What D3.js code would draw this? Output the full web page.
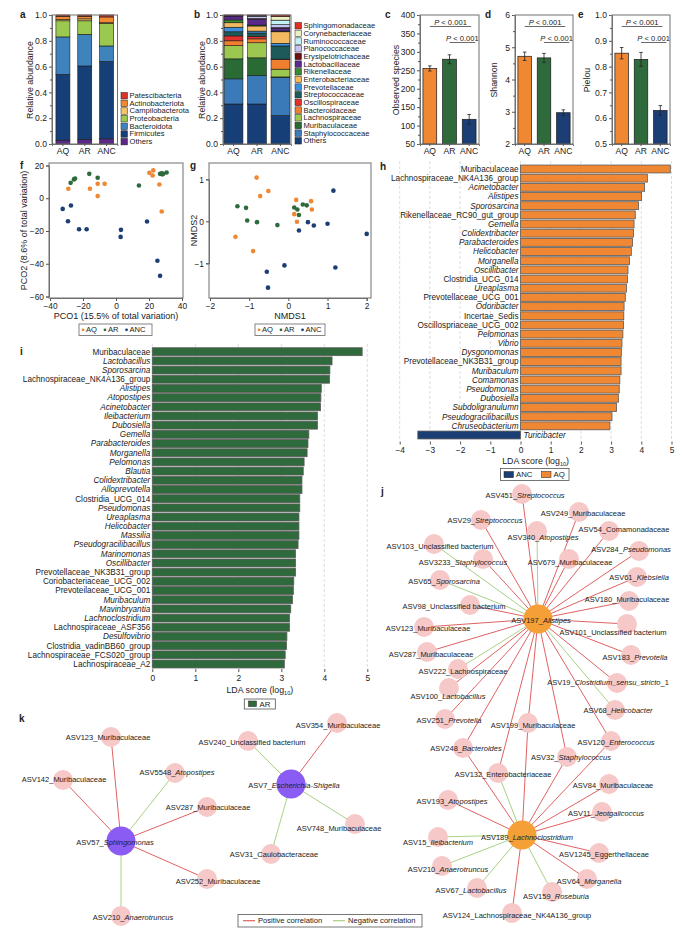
<!DOCTYPE html>
<html><head><meta charset="utf-8">
<script src="https://cdn.jsdelivr.net/npm/d3@7/dist/d3.min.js"></script>
<style>
html,body{margin:0;padding:0;background:#fff;}
svg text{font-family:"Liberation Sans",Arial,Helvetica,sans-serif;fill:#222;}
</style></head>
<body><svg id="fig" width="700" height="934" viewBox="0 0 700 934"></svg>
<script>
// ================= DATA =================
const groups = ["AQ", "AR", "ANC"];
const groupColors = ["#ef8733", "#2e6a3b", "#1b3e75"];

// (a) phylum relative abundance, stacked bottom -> top
const phyla = ["Others", "Firmicutes", "Bacteroidota", "Proteobacteria", "Campilobacterota", "Actinobacteriota", "Patescibacteria"];
const phylaColors = ["#5b2a86", "#173f77", "#3f83bd", "#9bc950", "#f4c46a", "#f08a33", "#d7342a"];
const phylaAQ  = [0.030, 0.510, 0.290, 0.125, 0.010, 0.025, 0.010];
const phylaAR  = [0.035, 0.570, 0.245, 0.105, 0.015, 0.020, 0.010];
const phylaANC = [0.040, 0.600, 0.120, 0.175, 0.005, 0.045, 0.015];

// (b) family relative abundance, stacked bottom -> top
const families = ["Others", "Staphylococcaceae", "Muribaculaceae", "Lachnospiraceae", "Bacteroidaceae", "Oscillospiraceae",
  "Streptococcaceae", "Prevotellaceae", "Enterobacteriaceae", "Rikenellaceae", "Lactobacillaceae", "Erysipelotrichaceae",
  "Planococcaceae", "Ruminococcaceae", "Corynebacteriaceae", "Sphingomonadaceae"];
const familyColors = ["#173f77", "#3a7ab8", "#2a6a35", "#9cc850", "#f08030", "#e2302a", "#1f5a5a", "#3a90e0",
  "#f2b960", "#3a8a30", "#5a2a8a", "#6e1010", "#c4c4f2", "#c4f2f2", "#eaf2c4", "#e03020"];
const famAQ  = [0.310, 0.195, 0.155, 0.102, 0.038, 0.038, 0.032, 0.035, 0.035, 0.022, 0.030, 0.002, 0.002, 0.001, 0.001, 0.002];
const famAR  = [0.310, 0.220, 0.138, 0.117, 0.030, 0.020, 0.025, 0.015, 0.040, 0.007, 0.046, 0.004, 0.018, 0.004, 0.003, 0.003];
const famANC = [0.220, 0.295, 0.005, 0.060, 0.075, 0.003, 0.102, 0.020, 0.090, 0.006, 0.022, 0.004, 0.023, 0.035, 0.028, 0.012];

// (c-e) alpha diversity, mean and error
const observed = [255, 280, 117], observedErr = [7, 12, 13];
const shannon = [4.72, 4.67, 2.97], shannonErr = [0.13, 0.14, 0.09];
const pielou = [0.852, 0.828, 0.630], pielouErr = [0.022, 0.027, 0.019];
const pText = "P < 0.001";

// (f) PCoA
const pcoAQ  = [[-28.9, 5.8], [-15.8, 5.8], [-11.1, 8.8], [-6.9, 8.8], [-11.1, 1.3], [20.2, 15.5], [22.6, 17.0], [22.2, 13.9], [26.3, 8.4], [27.7, -8.1]];
const pcoAR  = [[-27.5, 9.4], [-25.5, 11.5], [-24.8, 12.1], [-16.2, 14.9], [-11.1, 12.5], [13.9, 7.8], [26.7, 14.9], [27.7, 15.2], [28.1, 14.6], [28.7, 15.0], [30.7, 15.7]];
const pcoANC = [[-32.3, -6.5], [-27.3, -4.4], [-29.1, -14.0], [-22.4, -18.9], [-17.8, -18.9], [2.8, -23.6], [3.0, -19.3], [18.8, -14.2], [25.1, -38.2], [26.7, -47.4]];

// (g) NMDS
const nmdsAQ  = [[-0.81, 1.04], [-0.51, 0.72], [-0.72, 0.60], [0.20, 0.51], [0.58, 0.48], [0.15, 0.17], [0.60, 0.28], [0.22, -0.01], [-0.90, -0.71], [-1.35, -0.37]];
const nmdsAR  = [[-1.30, 0.36], [-1.08, 0.32], [-1.05, 0.02], [-0.80, -0.02], [-0.28, -0.09], [0.15, 0.33], [0.23, 0.28], [0.27, 0.15], [0.37, 0.40], [0.47, 0.38]];
const nmdsANC = [[1.15, 0.73], [1.20, -1.10], [-0.10, -1.05], [-0.55, -1.20], [-0.52, -1.58], [0.27, -0.22], [0.50, -0.02], [0.65, -0.10], [1.00, -0.06], [2.00, -0.30]];

// (h) LEfSe AQ vs ANC
const ldaAQNames = ["Muribaculaceae", "Lachnospiraceae_NK4A136_group", "Acinetobacter", "Alistipes", "Sporosarcina",
  "Rikenellaceae_RC90_gut_group", "Gemella", "Colidextribacter", "Parabacteroides", "Helicobacter", "Morganella",
  "Oscillibacter", "Clostridia_UCG_014", "Ureaplasma", "Prevotellaceae_UCG_001", "Odoribacter", "Incertae_Sedis",
  "Oscillospriaceae_UCG_002", "Pelomonas", "Vibrio", "Dysgonomonas", "Prevotellaceae_NK3B31_group", "Muribaculum",
  "Comamonas", "Pseudomonas", "Dubosiella", "Subdoligranulumn", "Pseudogracilibacillus", "Chruseobacterium"];
const ldaAQValues = [4.96, 4.20, 4.11, 4.01, 3.91, 3.80, 3.76, 3.74, 3.71, 3.67, 3.61, 3.56, 3.54, 3.51, 3.47, 3.43,
  3.42, 3.41, 3.39, 3.36, 3.34, 3.33, 3.33, 3.29, 3.27, 3.24, 3.18, 3.03, 2.96];
const ldaANCNames = ["Turicibacter"];
const ldaANCValues = [-3.40];
const ldaHTicks = [-4, -3, -2, -1, 0, 1, 2, 3, 4, 5];

// (i) LEfSe AR
const ldaARNames = ["Muribaculaceae", "Lactobacillus", "Sporosarcina", "Lachnospiraceae_NK4A136_group", "Alistipes",
  "Atopostipes", "Acinetobacter", "Ileibacterium", "Dubosiella", "Gemella", "Parabacteroides", "Morganella", "Pelomonas",
  "Blautia", "Colidextribacter", "Alloprevotella", "Clostridia_UCG_014", "Pseudomonas", "Ureaplasma", "Helicobacter",
  "Massilia", "Pseudogracilibacillus", "Marinomonas", "Oscillibacter", "Prevotellaceae_NK3B31_group",
  "Coriobacteriaceae_UCG_002", "Prevoteilaceae_UCG_001", "Muribaculum", "Mavinbryantia", "Lachnoclostridium",
  "Lachnospiraceae_ASF356", "Desulfovibrio", "Clostridia_vadinBB60_group", "Lachnospiraceae_FCS020_group", "Lachnospiraceae_A2"];
const ldaARValues = [4.88, 4.18, 4.13, 4.12, 3.93, 3.92, 3.91, 3.84, 3.84, 3.64, 3.62, 3.60, 3.53, 3.51, 3.48, 3.48,
  3.43, 3.43, 3.41, 3.41, 3.41, 3.39, 3.33, 3.33, 3.33, 3.29, 3.28, 3.26, 3.22, 3.19, 3.19, 3.13, 3.12, 3.09, 3.07];
const ldaITicks = [0, 1, 2, 3, 4, 5];

// (j) co-occurrence network: [name, layoutX, layoutY, labelX, labelY, role]
const jNodes = [
  ["ASV197_Alistipes", 158, 139, 161, 140, "hub"],
  ["ASV189_Lachnoclostridium", 142, 355, 147, 357, "hub"],
  ["ASV451_Streptococcus", 142, 14, 145, 15],
  ["ASV249_Muribaculaceae", 199, 32, 203, 33],
  ["ASV29_Streptococcus", 101, 40, 105, 40],
  ["ASV340_Atopostipes", 157, 51, 163, 57],
  ["ASV54_Comamonadaceae", 229, 51, 244, 49],
  ["ASV103_Unclassified bacterium", 54, 64, 60, 66],
  ["ASV284_Pseudomonas", 259, 71, 251, 69],
  ["ASV3233_Staphylococcus", 103, 79, 83, 82],
  ["ASV679_Muribaculaceae", 189, 79, 190, 82],
  ["ASV61_Klebsiella", 257, 97, 259, 97],
  ["ASV65_Sporosarcina", 60, 100, 64, 101],
  ["ASV180_Muribaculaceae", 249, 121, 247, 119],
  ["ASV98_Unclassified bacterium", 90, 125, 74, 126],
  ["ASV123_Muribaculaceae", 44, 147, 48, 148],
  ["ASV101_Unclassified bacterium", 247, 144, 233, 152],
  ["ASV287_Muribaculaceae", 47, 172, 51, 174],
  ["ASV183_Prevotella", 251, 175, 255, 177],
  ["ASV222_Lachnospiraceae", 78, 189, 83, 191],
  ["ASV19_Clostridium_sensu_stricto_1", 237, 203, 228, 202],
  ["ASV100_Lactobacillus", 69, 208, 68, 216],
  ["ASV251_Prevotella", 65, 239, 69, 240],
  ["ASV68_Helicobacter", 235, 230, 238, 230],
  ["ASV199_Muribaculaceae", 148, 243, 153, 245],
  ["ASV248_Bacteroides", 83, 268, 86, 268],
  ["ASV120_Enterococcus", 231, 261, 236, 262],
  ["ASV32_Staphylococcus", 187, 277, 191, 277],
  ["ASV132_Enterobacteriaceae", 118, 293, 123, 294],
  ["ASV84_Muribaculaceae", 229, 304, 233, 305],
  ["ASV193_Atopostipes", 68, 320, 72, 321],
  ["ASV11_Jeotgalicoccus", 222, 332, 226, 333],
  ["ASV15_Ileibacterium", 58, 357, 58, 362],
  ["ASV1245_Eggerthellaceae", 219, 373, 224, 374],
  ["ASV210_Anaerotruncus", 62, 386, 68, 389],
  ["ASV64_Morganella", 207, 399, 209, 401],
  ["ASV67_Lactobacillus", 97, 408, 91, 410],
  ["ASV159_Roseburia", 172, 412, 176, 416],
  ["ASV124_Lachnospiraceae_NK4A136_group", 132, 433, 137, 435]
];
// [source, target, sign]
const jEdges = [
  ["ASV197_Alistipes", "ASV451_Streptococcus", 1], ["ASV197_Alistipes", "ASV249_Muribaculaceae", 1],
  ["ASV197_Alistipes", "ASV29_Streptococcus", 1], ["ASV197_Alistipes", "ASV340_Atopostipes", -1],
  ["ASV197_Alistipes", "ASV54_Comamonadaceae", 1], ["ASV197_Alistipes", "ASV103_Unclassified bacterium", -1],
  ["ASV197_Alistipes", "ASV284_Pseudomonas", 1], ["ASV197_Alistipes", "ASV3233_Staphylococcus", 1],
  ["ASV197_Alistipes", "ASV679_Muribaculaceae", 1], ["ASV197_Alistipes", "ASV61_Klebsiella", 1],
  ["ASV197_Alistipes", "ASV65_Sporosarcina", -1], ["ASV197_Alistipes", "ASV180_Muribaculaceae", 1],
  ["ASV197_Alistipes", "ASV98_Unclassified bacterium", 1], ["ASV197_Alistipes", "ASV123_Muribaculaceae", 1],
  ["ASV197_Alistipes", "ASV101_Unclassified bacterium", 1], ["ASV197_Alistipes", "ASV287_Muribaculaceae", 1],
  ["ASV197_Alistipes", "ASV183_Prevotella", 1], ["ASV197_Alistipes", "ASV222_Lachnospiraceae", -1],
  ["ASV197_Alistipes", "ASV19_Clostridium_sensu_stricto_1", 1], ["ASV197_Alistipes", "ASV100_Lactobacillus", 1],
  ["ASV197_Alistipes", "ASV251_Prevotella", 1], ["ASV197_Alistipes", "ASV68_Helicobacter", -1],
  ["ASV197_Alistipes", "ASV199_Muribaculaceae", 1], ["ASV197_Alistipes", "ASV248_Bacteroides", 1],
  ["ASV197_Alistipes", "ASV120_Enterococcus", 1], ["ASV197_Alistipes", "ASV32_Staphylococcus", 1],
  ["ASV197_Alistipes", "ASV132_Enterobacteriaceae", 1],
  ["ASV189_Lachnoclostridium", "ASV248_Bacteroides", 1], ["ASV189_Lachnoclostridium", "ASV132_Enterobacteriaceae", -1],
  ["ASV189_Lachnoclostridium", "ASV199_Muribaculaceae", 1], ["ASV189_Lachnoclostridium", "ASV32_Staphylococcus", 1],
  ["ASV189_Lachnoclostridium", "ASV120_Enterococcus", 1], ["ASV189_Lachnoclostridium", "ASV84_Muribaculaceae", 1],
  ["ASV189_Lachnoclostridium", "ASV193_Atopostipes", 1], ["ASV189_Lachnoclostridium", "ASV11_Jeotgalicoccus", 1],
  ["ASV189_Lachnoclostridium", "ASV15_Ileibacterium", -1], ["ASV189_Lachnoclostridium", "ASV1245_Eggerthellaceae", 1],
  ["ASV189_Lachnoclostridium", "ASV210_Anaerotruncus", -1], ["ASV189_Lachnoclostridium", "ASV64_Morganella", 1],
  ["ASV189_Lachnoclostridium", "ASV67_Lactobacillus", -1], ["ASV189_Lachnoclostridium", "ASV159_Roseburia", -1],
  ["ASV189_Lachnoclostridium", "ASV124_Lachnospiraceae_NK4A136_group", 1]
];

// (k) network
const kNodes = [
  ["ASV57_Sphingomonas", 121, 201, 115, 202, "hub"],
  ["ASV7_Escherichia-Shigella", 291, 144, 294, 145, "hub"],
  ["ASV123_Muribaculaceae", 111, 97, 108, 97],
  ["ASV142_Muribaculaceae", 63, 140, 64, 139],
  ["ASV5548_Atopostipes", 175, 133, 177, 132],
  ["ASV287_Muribaculaceae", 207, 167, 208, 167],
  ["ASV252_Muribaculaceae", 207, 239, 218, 241],
  ["ASV210_Anaerotruncus", 121, 276, 133, 277],
  ["ASV240_Unclassified bacterium", 248, 101, 252, 102],
  ["ASV354_Muribaculaceae", 337, 83, 338, 85],
  ["ASV748_Muribaculaceae", 355, 184, 339, 188],
  ["ASV31_Caulobacteraceae", 271, 214, 274, 214]
];
const kEdges = [
  ["ASV57_Sphingomonas", "ASV123_Muribaculaceae", 1], ["ASV57_Sphingomonas", "ASV142_Muribaculaceae", 1],
  ["ASV57_Sphingomonas", "ASV5548_Atopostipes", -1], ["ASV57_Sphingomonas", "ASV287_Muribaculaceae", 1],
  ["ASV57_Sphingomonas", "ASV252_Muribaculaceae", 1], ["ASV57_Sphingomonas", "ASV210_Anaerotruncus", -1],
  ["ASV7_Escherichia-Shigella", "ASV240_Unclassified bacterium", -1], ["ASV7_Escherichia-Shigella", "ASV354_Muribaculaceae", 1],
  ["ASV7_Escherichia-Shigella", "ASV748_Muribaculaceae", -1], ["ASV7_Escherichia-Shigella", "ASV31_Caulobacteraceae", -1]
];
const corrLegend = ["Positive correlation", "Negative correlation"];

// ================= DRAWING =================
const svg = d3.select("#fig");
const FRAME = "#707070", TICKC = "#555", POS = "#e06262", NEG = "#a9d184";

function styleAxis(g, fs) {
  g.attr("font-size", fs).attr("font-family", null);
  g.select(".domain").attr("stroke", FRAME);
  g.selectAll(".tick line").attr("stroke", TICKC);
  g.selectAll(".tick text").attr("fill", "#222");
  return g;
}
function panelLabel(t, x, y) {
  svg.append("text").attr("x", x).attr("y", y).attr("font-size", 10).attr("font-weight", "bold").text(t);
}
function vTitle(t, x, y, fs) {
  svg.append("text").attr("transform", `translate(${x},${y}) rotate(-90)`)
    .attr("text-anchor", "middle").attr("dy", "0.35em").attr("font-size", fs).text(t);
}
function frame(x0, y0, x1, y1) {
  svg.append("rect").attr("x", x0).attr("y", y0).attr("width", x1 - x0).attr("height", y1 - y0)
    .attr("fill", "none").attr("stroke", FRAME).attr("stroke-width", 1);
}
function ldaTitle(cx, y) {
  const t = svg.append("text").attr("x", cx).attr("y", y).attr("text-anchor", "middle").attr("font-size", 8.8);
  t.append("tspan").text("LDA score (log");
  t.append("tspan").attr("font-size", 5.5).attr("dy", 2).text("10");
  t.append("tspan").attr("dy", -2).text(")");
}

// ---------- stacked bars (a, b) ----------
function stackedPanel(keys, colors, series, cfg) {
  const rows = groups.map((g, i) => {
    const o = { group: g };
    keys.forEach((k, j) => { o[k] = series[i][j]; });
    return o;
  });
  const stacked = d3.stack().keys(keys)(rows);
  const x = d3.scaleBand().domain(groups).range([cfg.x0, cfg.x1]).paddingInner(cfg.pi).paddingOuter(cfg.po);
  const y = d3.scaleLinear().domain([0, 1]).range([cfg.yb, cfg.yt]);
  const g = svg.append("g");
  stacked.forEach((s, j) => {
    g.selectAll(null).data(s).join("rect")
      .attr("x", d => x(d.data.group)).attr("width", x.bandwidth())
      .attr("y", d => y(d[1])).attr("height", d => Math.max(0, y(d[0]) - y(d[1])))
      .attr("fill", colors[j]).attr("stroke", "#1a1a1a").attr("stroke-width", 0.6);
  });
  frame(cfg.x0, cfg.yt, cfg.x1, cfg.yb);
  styleAxis(svg.append("g").attr("transform", `translate(${cfg.x0},0)`)
    .call(d3.axisLeft(y).tickValues([0, 0.2, 0.4, 0.6, 0.8, 1]).tickFormat(d3.format(".1f")).tickSize(3).tickPadding(2)), 8.6);
  styleAxis(svg.append("g").attr("transform", `translate(${cfg.x0},0)`)
    .call(d3.axisLeft(y).tickValues([0.1, 0.3, 0.5, 0.7, 0.9]).tickFormat("").tickSize(2)), 8.6);
  styleAxis(svg.append("g").attr("transform", `translate(0,${cfg.yb})`)
    .call(d3.axisBottom(x).tickSize(2).tickPadding(2)), 8.6);
  // legend
  const lg = svg.append("g");
  const order = keys.map((k, j) => j).reverse();
  order.forEach((j, idx) => {
    const yy = cfg.ly + idx * cfg.lstep;
    lg.append("rect").attr("x", cfg.lx).attr("y", yy - 3).attr("width", 6.5).attr("height", 6.5)
      .attr("fill", colors[j]).attr("stroke", "#222").attr("stroke-width", 0.5);
    lg.append("text").attr("x", cfg.lx + 8.5).attr("y", yy).attr("dy", "0.35em").attr("font-size", 7.6).text(keys[j]);
  });
}
stackedPanel(phyla, phylaColors, [phylaAQ, phylaAR, phylaANC],
  { x0: 52, x1: 117.5, yt: 15, yb: 144, pi: 0.36, po: 0.18, lx: 121, ly: 95.5, lstep: 7.65 });
stackedPanel(families, familyColors, [famAQ, famAR, famANC],
  { x0: 223, x1: 291, yt: 15, yb: 144, pi: 0.2, po: 0.05, lx: 295, ly: 25.5, lstep: 7.67 });
vTitle("Relative abundance", 30, 80, 8.8);
vTitle("Relative abundance", 201.5, 80, 8.8);
panelLabel("a", 20, 18); panelLabel("b", 194, 18);

// ---------- alpha diversity (c, d, e) ----------
function alphaPanel(vals, errs, domain, major, minor, fmt, cfg) {
  const x = d3.scaleBand().domain(groups).range([cfg.x0, cfg.x1]).paddingInner(0.3).paddingOuter(0.15);
  const y = d3.scaleLinear().domain(domain).range([144, 15]);
  const g = svg.append("g");
  g.selectAll(null).data(groups).join("rect")
    .attr("x", d => x(d)).attr("width", x.bandwidth())
    .attr("y", (d, i) => y(vals[i])).attr("height", (d, i) => y(domain[0]) - y(vals[i]))
    .attr("fill", (d, i) => groupColors[i]).attr("stroke", "#1a1a1a").attr("stroke-width", 0.7);
  const cx = d => x(d) + x.bandwidth() / 2;
  g.selectAll(null).data(groups).join("path")
    .attr("d", (d, i) => {
      const a = y(vals[i] + errs[i]), b = y(vals[i] - errs[i]), c = cx(d);
      return `M${c},${a}V${b}M${c - 1.8},${a}H${c + 1.8}M${c - 1.8},${b}H${c + 1.8}`;
    })
    .attr("stroke", "#222").attr("stroke-width", 0.8).attr("fill", "none");
  frame(cfg.x0, 15, cfg.x1, 144);
  styleAxis(svg.append("g").attr("transform", `translate(${cfg.x0},0)`)
    .call(d3.axisLeft(y).tickValues(major).tickFormat(fmt).tickSize(3).tickPadding(2)), 8.6);
  styleAxis(svg.append("g").attr("transform", `translate(${cfg.x0},0)`)
    .call(d3.axisLeft(y).tickValues(minor).tickFormat("").tickSize(2)), 8.6);
  styleAxis(svg.append("g").attr("transform", `translate(0,144)`)
    .call(d3.axisBottom(x).tickSize(2).tickPadding(2)), 8.6);
  // significance brackets
  const br = [[cx("AQ"), cx("ANC") + 2, 26.5], [cx("AR"), cx("ANC") + 6, 42.5]];
  br.forEach(b => {
    g.append("line").attr("x1", b[0]).attr("x2", b[1]).attr("y1", b[2]).attr("y2", b[2])
      .attr("stroke", "#444").attr("stroke-width", 0.8);
    const t = g.append("text").attr("x", (b[0] + b[1]) / 2).attr("y", b[2] - 2).attr("text-anchor", "middle").attr("font-size", 7.6);
    t.append("tspan").attr("font-style", "italic").text(pText.slice(0, 1));
    t.append("tspan").text(pText.slice(1));
  });
  vTitle(cfg.title, cfg.tx, 80, 8.8);
  panelLabel(cfg.label, cfg.lx, 18);
}
alphaPanel(observed, observedErr, [50, 400], d3.range(50, 401, 50), d3.range(75, 400, 50), d3.format("d"),
  { x0: 420, x1: 479, title: "Observed species", tx: 396, label: "c", lx: 385 });
alphaPanel(shannon, shannonErr, [2, 6], [2, 3, 4, 5, 6], [2.5, 3.5, 4.5, 5.5], d3.format("d"),
  { x0: 515, x1: 573, title: "Shannon", tx: 494, label: "d", lx: 485 });
alphaPanel(pielou, pielouErr, [0.5, 1.0], [0.5, 0.6, 0.7, 0.8, 0.9, 1.0], [0.55, 0.65, 0.75, 0.85, 0.95], d3.format(".1f"),
  { x0: 612, x1: 670, title: "Pielou", tx: 587, label: "e", lx: 578 });

// ---------- ordinations (f, g) ----------
function scatterPanel(sets, xd, xr, yd, yr, fr, xt, yt, cfg) {
  const x = d3.scaleLinear().domain(xd).range(xr);
  const y = d3.scaleLinear().domain(yd).range(yr);
  frame(fr[0], fr[1], fr[2], fr[3]);
  styleAxis(svg.append("g").attr("transform", `translate(${fr[0]},0)`)
    .call(d3.axisLeft(y).tickValues(yt).tickSize(3).tickPadding(2).tickFormat(d3.format("d"))), 8.4);
  styleAxis(svg.append("g").attr("transform", `translate(0,${fr[3]})`)
    .call(d3.axisBottom(x).tickValues(xt).tickSize(3).tickPadding(2).tickFormat(d3.format("d"))), 8.4);
  sets.forEach((pts, i) => {
    svg.append("g").selectAll(null).data(pts).join("circle")
      .attr("cx", d => x(d[0])).attr("cy", d => y(d[1])).attr("r", 2.3).attr("fill", groupColors[i]);
  });
  svg.append("text").attr("x", (fr[0] + fr[2]) / 2).attr("y", 319).attr("text-anchor", "middle").attr("font-size", 9).text(cfg.xtitle);
  vTitle(cfg.ytitle, cfg.ytx, (fr[1] + fr[3]) / 2, 9);
  // legend
  const lg = svg.append("g");
  lg.append("rect").attr("x", cfg.lx).attr("y", 324).attr("width", cfg.lw).attr("height", 11.5)
    .attr("fill", "#fff").attr("stroke", "#666").attr("stroke-width", 0.8);
  let xx = cfg.lx + 4;
  groups.forEach((gname, i) => {
    lg.append("circle").attr("cx", xx).attr("cy", 329.8).attr("r", 1.4).attr("fill", groupColors[i]);
    const t = lg.append("text").attr("x", xx + 3).attr("y", 329.8).attr("dy", "0.35em").attr("font-size", 7.6).text(gname);
    xx += 3 + t.node().getComputedTextLength() + 8;
  });
}
scatterPanel([pcoAQ, pcoAR, pcoANC], [-40, 40], [50, 182], [-60, 20], [296.5, 165.5], [49, 163, 183, 298],
  [-40, -20, 0, 20, 40], [-60, -40, -20, 0, 20],
  { xtitle: "PCO1 (15.5% of total variation)", ytitle: "PCO2 (8.6% of total variation)", ytx: 24, lx: 79, lw: 73 });
scatterPanel([nmdsAQ, nmdsAR, nmdsANC], [-2, 2], [210, 366.7], [-1, 1], [263.3, 179.3], [209, 163, 371, 298],
  [-2, -1, 0, 1, 2], [-1, 0, 1],
  { xtitle: "NMDS1", ytitle: "NMDS2", ytx: 194, lx: 255, lw: 70 });
panelLabel("f", 20, 169); panelLabel("g", 190, 169);

// ---------- LEfSe (h, i) ----------
function italicName(n) { return !n.includes("_") && !n.endsWith("aceae"); }
function ldaPanel(names, vals, colors, xd, xr, yr, ticks, gridY, axisY) {
  const x = d3.scaleLinear().domain(xd).range(xr);
  const y = d3.scaleBand().domain(names).range(yr).paddingInner(0.14).paddingOuter(0.07);
  const g = svg.append("g");
  g.selectAll(null).data(ticks).join("line")
    .attr("x1", d => x(d)).attr("x2", d => x(d)).attr("y1", gridY[0]).attr("y2", gridY[1])
    .attr("stroke", "#d4d4d4").attr("stroke-width", 0.8).attr("stroke-dasharray", "3,2");
  g.selectAll(null).data(names).join("rect")
    .attr("x", (d, i) => x(Math.min(0, vals[i]))).attr("width", (d, i) => Math.abs(x(vals[i]) - x(0)))
    .attr("y", d => y(d)).attr("height", y.bandwidth())
    .attr("fill", (d, i) => colors[i]).attr("stroke", "#5a5a5a").attr("stroke-width", 0.8);
  g.selectAll(null).data(names).join("text")
    .attr("x", (d, i) => vals[i] >= 0 ? x(0) - 2 : x(0) + 3)
    .attr("text-anchor", (d, i) => vals[i] >= 0 ? "end" : "start")
    .attr("y", d => y(d) + y.bandwidth() / 2).attr("dy", "0.35em").attr("font-size", 8.2)
    .attr("font-style", d => italicName(d) ? "italic" : null).text(d => d);
  const ax = styleAxis(svg.append("g").attr("transform", `translate(0,${axisY})`)
    .call(d3.axisBottom(x).tickValues(ticks).tickSize(3).tickPadding(3).tickFormat(d3.format("d"))), 8.4);
  ax.select(".domain").remove();
  return x;
}
const hNames = ldaAQNames.concat(ldaANCNames);
const hVals = ldaAQValues.concat(ldaANCValues);
const hCols = hVals.map(v => v >= 0 ? groupColors[0] : groupColors[2]);
ldaPanel(hNames, hVals, hCols, [-4, 5], [399.7, 671.5], [164.4, 439.6], ldaHTicks, [161, 441], 441.5);
ldaTitle(535.6, 464);
{
  const lg = svg.append("g");
  lg.append("rect").attr("x", 500.5).attr("y", 468.5).attr("width", 68.5).attr("height", 12)
    .attr("fill", "#fff").attr("stroke", "#555").attr("stroke-width", 0.8);
  [["ANC", groupColors[2], 504], ["AQ", groupColors[0], 541.5]].forEach(d => {
    lg.append("rect").attr("x", d[2]).attr("y", 471.5).attr("width", 9.5).attr("height", 6.2).attr("fill", d[1]).attr("stroke", "#222").attr("stroke-width", 0.5);
    lg.append("text").attr("x", d[2] + 12).attr("y", 474.6).attr("dy", "0.35em").attr("font-size", 7.8).text(d[0]);
  });
}
panelLabel("h", 380, 170);

ldaPanel(ldaARNames, ldaARValues, ldaARValues.map(() => groupColors[1]), [0, 5], [152.3, 367.3], [347.1, 668.6], ldaITicks, [344, 668], 669);
ldaTitle(259.8, 692.5);
{
  const lg = svg.append("g");
  lg.append("rect").attr("x", 244.3).attr("y", 699).attr("width", 31).attr("height", 10)
    .attr("fill", "#fff").attr("stroke", "#555").attr("stroke-width", 0.8);
  lg.append("rect").attr("x", 248.5).attr("y", 701).attr("width", 8).attr("height", 5.6).attr("fill", groupColors[1]).attr("stroke", "#222").attr("stroke-width", 0.5);
  lg.append("text").attr("x", 259.5).attr("y", 704).attr("dy", "0.35em").attr("font-size", 7.8).text("AR");
}
panelLabel("i", 20, 355);

// ---------- networks (j, k) ----------
function taxonSpans(sel, full) {
  const i = full.indexOf("_");
  const prefix = full.slice(0, i + 1), taxon = full.slice(i + 1);
  sel.append("tspan").text(prefix);
  if (/aceae|Unclassified/.test(taxon)) sel.append("tspan").text(taxon);
  else if (/_1$/.test(taxon)) {
    sel.append("tspan").attr("font-style", "italic").text(taxon.slice(0, -2));
    sel.append("tspan").text("_1");
  } else sel.append("tspan").attr("font-style", "italic").text(taxon);
}
function drawNetwork(nodes, edges, sx, sy, hubColor) {
  const byId = new Map(nodes.map(n => [n[0], n]));
  const g = svg.append("g");
  g.selectAll(null).data(edges).join("line")
    .attr("x1", e => sx(byId.get(e[0])[1])).attr("y1", e => sy(byId.get(e[0])[2]))
    .attr("x2", e => sx(byId.get(e[1])[1])).attr("y2", e => sy(byId.get(e[1])[2]))
    .attr("stroke", e => e[2] > 0 ? POS : NEG).attr("stroke-width", 1);
  g.selectAll(null).data(nodes).join("circle")
    .attr("cx", n => sx(n[1])).attr("cy", n => sy(n[2]))
    .attr("r", n => n[5] === "hub" ? 14.5 : 10)
    .attr("fill", n => n[5] === "hub" ? hubColor : "#f6c8c8");
  g.selectAll(null).data(nodes).join("text")
    .attr("x", n => sx(n[3])).attr("y", n => sy(n[4])).attr("dy", "0.35em")
    .attr("text-anchor", "middle").attr("font-size", 7.5)
    .each(function (n) { taxonSpans(d3.select(this), n[0]); });
}
drawNetwork(jNodes, jEdges, d3.scaleLinear().domain([0, 320]).range([380, 700]),
  d3.scaleLinear().domain([0, 450]).range([480, 930]), "#f4a037");
drawNetwork(kNodes, kEdges, d3.scaleLinear().domain([0, 380]).range([0, 380]),
  d3.scaleLinear().domain([0, 294]).range([640, 934]), "#8a5cf4");
panelLabel("j", 381, 495); panelLabel("k", 19, 722);

// correlation legend
{
  const lg = svg.append("g");
  lg.append("rect").attr("x", 238).attr("y", 914.5).attr("width", 184).attr("height", 12.5)
    .attr("fill", "#fff").attr("stroke", "#555").attr("stroke-width", 0.8);
  [[POS, 243, corrLegend[0]], [NEG, 333, corrLegend[1]]].forEach(d => {
    lg.append("line").attr("x1", d[1]).attr("x2", d[1] + 12).attr("y1", 920.7).attr("y2", 920.7).attr("stroke", d[0]).attr("stroke-width", 1.2);
    lg.append("text").attr("x", d[1] + 15).attr("y", 920.7).attr("dy", "0.35em").attr("font-size", 7.6).text(d[2]);
  });
}
</script></body></html>
